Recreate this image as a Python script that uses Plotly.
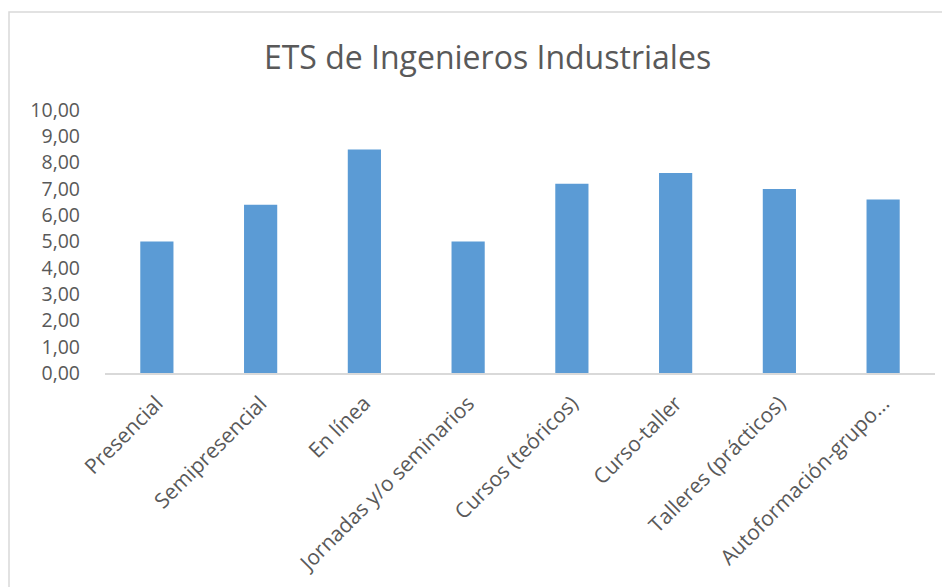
import plotly.graph_objects as go

categories = ["Presencial", "Semipresencial", "En línea", "Jornadas y/o seminarios",
              "Cursos (teóricos)", "Curso-taller", "Talleres (prácticos)", "Autoformación-grupo..."]
values = [5.0, 6.4, 8.5, 5.0, 7.2, 7.6, 7.0, 6.6]
y_ticks = [0, 1, 2, 3, 4, 5, 6, 7, 8, 9, 10]
title_text = "ETS de Ingenieros Industriales"

FONT = "Open Sans, sans-serif"
GREY = "#595959"

fig = go.Figure(go.Bar(x=categories, y=values, marker=dict(color="#5b9bd5", line=dict(width=0))))

# page body has an 8px offset; figure is drawn 8px right/down of page origin
OFF = 8
W, H = 950 - OFF, 587 - OFF
L, R = 105 - OFF, W - (935 - OFF)
T = 110 - OFF
B = H - (373 - OFF)
pw, ph = W - L - R, H - T - B

fig.update_layout(
    width=W, height=H,
    margin=dict(l=L, r=R, t=T, b=B, autoexpand=False),
    paper_bgcolor="white", plot_bgcolor="white",
    separators=",.",
    bargap=0.68,
    showlegend=False,
    title=dict(text=title_text, x=(487.5 - OFF) / W, xanchor="center", y=1 - (58 - OFF) / H, yanchor="middle",
               font=dict(family=FONT, size=32, color=GREY)),
    xaxis=dict(showline=True, linecolor="#d9d9d9", linewidth=1.5, showgrid=False, ticks="",
               tickangle=-45, ticklabelstandoff=8, tickfont=dict(family=FONT, size=21, color=GREY)),
    yaxis=dict(range=[0, 10], tickvals=y_ticks, tickformat=".2f", showgrid=False, zeroline=False,
               showline=False, ticks="", ticklabelstandoff=24,
               tickfont=dict(family=FONT, size=19.5, color=GREY)),
    shapes=[dict(type="rect", xref="paper", yref="paper",
                 x0=(9 - 105) / pw, x1=(960 - 105) / pw,
                 y0=(373 - 600) / ph, y1=(373 - 12) / ph,
                 line=dict(color="#d9d9d9", width=1.5), layer="below")],
)

fig.write_html("out.html")
